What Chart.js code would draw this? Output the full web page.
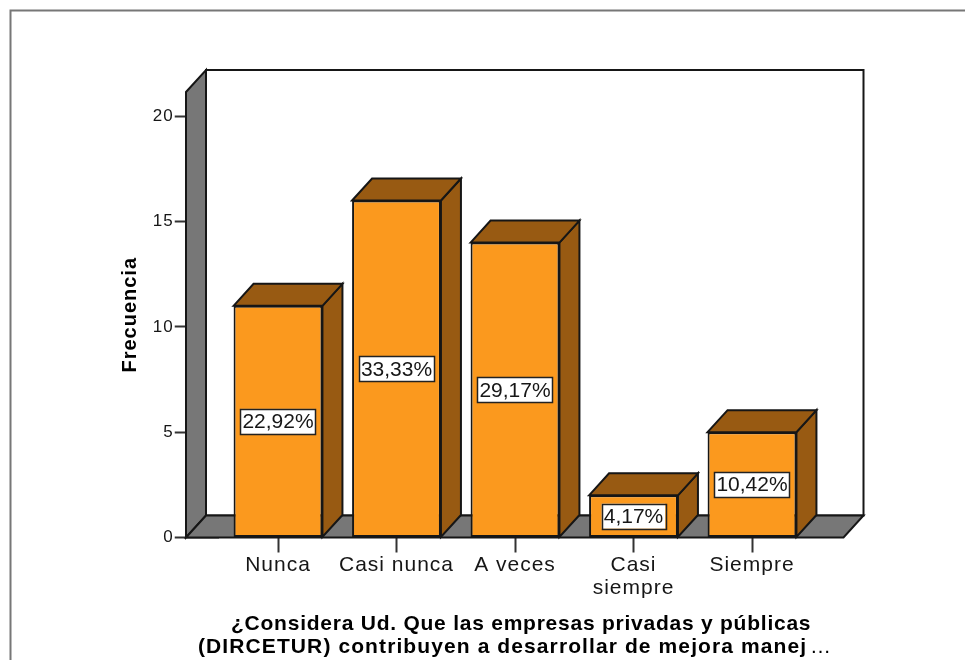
<!DOCTYPE html>
<html><head><meta charset="utf-8">
<style>html,body{margin:0;padding:0;background:#fff}#w{width:965px;height:660px;position:relative;overflow:hidden}canvas{display:block;filter:blur(0.4px)}</style>
<script src="https://cdn.jsdelivr.net/npm/chart.js@4"></script></head>
<body><div id="w"><canvas id="c" width="965" height="660"></canvas></div>
<script>
const categories = ["Nunca","Casi nunca","A veces",["Casi","siempre"],"Siempre"];
const frecuencia = [11,16,14,2,5];
const porcentajes = ["22,92%","33,33%","29,17%","4,17%","10,42%"];
const yTicks = [0,5,10,15,20];
const yTitle = "Frecuencia";
const xTitle1 = "¿Considera Ud. Que las empresas privadas y públicas";
const xTitle2 = "(DIRCETUR) contribuyen a desarrollar de mejora manej";
const xTitleEllipsis = "…";

const ink="#161616", orange="#FB991E", brown="#985A12", wall="#777777";
const DX=20, DY=22;
function poly(ctx,pts,fill){ctx.beginPath();pts.forEach((p,i)=>i?ctx.lineTo(p[0],p[1]):ctx.moveTo(p[0],p[1]));ctx.closePath();ctx.fillStyle=fill;ctx.fill();ctx.stroke();}
const box3d={id:"box3d",
 beforeDraw(chart){const c=chart.ctx;c.save();c.strokeStyle="#777";c.lineWidth=2;c.beginPath();c.moveTo(10.5,660);c.lineTo(10.5,10.5);c.lineTo(965,10.5);c.stroke();c.restore();c.letterSpacing="1px";},
 beforeDatasetsDraw(chart){const c=chart.ctx,a=chart.chartArea;
  const L=a.left-32.75,R=a.right+32.25,T=a.top,B=a.bottom;
  c.save();c.lineWidth=2;c.strokeStyle=ink;c.lineJoin="miter";
  c.fillStyle="#fff";c.fillRect(L,T-DY-1,R-L+DX+1,B-T+DY+1);
  poly(c,[[L+DX,T-DY],[R+DX,T-DY],[R+DX,B-DY],[L+DX,B-DY]],"#fff");
  poly(c,[[L,T],[L+DX,T-DY],[L+DX,B-DY],[L,B]],wall);
  poly(c,[[L,B],[L+DX,B-DY],[R+DX,B-DY],[R,B]],wall);
  chart.getDatasetMeta(0).data.forEach(b=>{
   const l=b.x-b.width/2,r=b.x+b.width/2,t=b.y,bt=b.base;
   poly(c,[[r,t],[r+DX,t-DY],[r+DX,bt-DY],[r,bt]],brown);
   poly(c,[[l,t],[l+DX,t-DY],[r+DX,t-DY],[r,t]],brown);
  });
  c.restore();
 },
 afterDatasetsDraw(chart){const c=chart.ctx;c.save();
  c.letterSpacing="0px";
  c.font='21px "Liberation Sans"';c.textAlign="center";c.textBaseline="middle";
  chart.getDatasetMeta(0).data.forEach((b,i)=>{
   const t=porcentajes[i],w=c.measureText(t).width+4,h=25,x=b.x,y=(b.y+b.base)/2;
   c.fillStyle="#fff";c.fillRect(x-w/2,y-h/2,w,h);
   c.strokeStyle="#222";c.lineWidth=1.5;c.strokeRect(Math.round(x-w/2)+.5,Math.round(y-h/2)+.5,Math.round(w),h);
   c.fillStyle=ink;c.fillText(t,x,y+1);
  });
  c.textAlign="left";c.textBaseline="alphabetic";c.fillStyle="#000";
  c.font='bold 21px "Liberation Sans"';
  c.letterSpacing="0.76px";c.fillText(xTitle1,231,630);
  c.letterSpacing="1.1px";c.fillText(xTitle2,198,653);
  c.font='21px "Liberation Sans"';c.letterSpacing="0px";c.fillText(xTitleEllipsis,810,653);
  c.restore();}
};
const cv=document.getElementById("c");
new Chart(cv,{type:"bar",
 data:{labels:categories,datasets:[{data:frecuencia,backgroundColor:orange,borderColor:ink,borderWidth:2,borderSkipped:false,barPercentage:0.75,categoryPercentage:1}]},
 plugins:[box3d],
 options:{responsive:false,animation:false,
  layout:{padding:{left:0,right:153.75,top:92,bottom:0}},
  plugins:{legend:{display:false},tooltip:{enabled:false}},
  scales:{
   x:{offset:true,
    afterFit(s){s.height=122.5;},
    grid:{display:true,drawOnChartArea:false,tickLength:15,tickColor:"#333",tickWidth:2,offset:false},
    border:{display:false},
    ticks:{color:ink,maxRotation:0,autoSkip:false,padding:2,font:{family:"Liberation Sans",size:21,lineHeight:1.06}},
    title:{display:false}
   },
   y:{min:0,max:21.15,
    afterFit(s){s.width=218.75;},
    afterBuildTicks(s){s.ticks=yTicks.map(v=>({value:v}));},
    grid:{display:true,drawOnChartArea:false,tickLength:44,tickColor:"#333",tickWidth:2},
    border:{display:false},
    ticks:{color:ink,padding:1,includeBounds:false,font:{family:"Liberation Sans",size:17}},
    title:{display:true,text:yTitle,color:"#000",padding:{top:118,bottom:0},font:{family:"Liberation Sans",size:20,weight:"bold"}}
   }
  }
 }
});
</script></body></html>
